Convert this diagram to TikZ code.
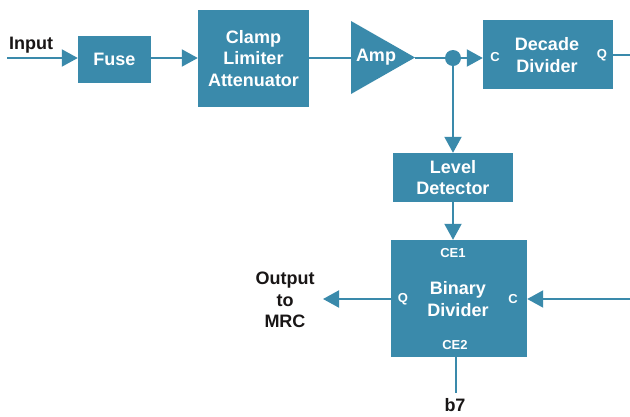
\documentclass[tikz,border=0pt]{standalone}
\usepackage{fontspec}
\setmainfont{Liberation Sans}
\usetikzlibrary{arrows.meta}
\definecolor{hpblue}{RGB}{58,138,171}
\definecolor{ink}{RGB}{25,22,22}
\begin{document}
\begin{tikzpicture}[x=1pt,y=-1pt,
  box/.style={draw=none,fill=hpblue,text=white,inner sep=0pt,align=center,
    font=\fontsize{18}{21.5}\selectfont\bfseries},
  pin/.style={text=white,inner sep=0pt,font=\fontsize{13}{14}\selectfont\bfseries},
  lbl/.style={text=ink,inner sep=0pt,align=center,font=\fontsize{18}{21.5}\selectfont\bfseries},
  wire/.style={draw=hpblue,line width=2pt},
  arr/.style={wire,-{Triangle[length=16pt,width=17pt]}}]
\useasboundingbox (0,0) rectangle (630,416);
% boxes
\node[box,minimum width=73pt,minimum height=47pt] (fuse) at (114.5,59.5) {Fuse};
\node[box,minimum width=111pt,minimum height=97pt] (clamp) at (253.5,58.5) {Clamp\\Limiter\\Attenuator};
\fill[hpblue] (351,21) -- (351,94) -- (415,57.5) -- cycle;
\coordinate (ampL) at (351,58);
\coordinate (ampR) at (415,58);
\node[box,fill=none] (amp) at (376,57) {Amp};
\node[circle,fill=hpblue,minimum size=16pt,inner sep=0pt] (dot) at (453,58) {};
\node[box,minimum width=130pt,minimum height=69pt] (decade) at (548,54.5) {};
\node[box,fill=none] (decadet) at (547,55) {Decade\\Divider};
\node[pin] (decC) at (495,57) {C};
\node[pin] (decQ) at (602,55) {Q};
\node[box,minimum width=120pt,minimum height=49pt] (level) at (453,177.5) {Level\\Detector};
\node[box,minimum width=136pt,minimum height=117pt] (binary) at (459,298.5) {};
\node[box,fill=none] (binaryt) at (458,299) {Binary\\Divider};
\node[pin] (ce1) at (453,253) {CE1};
\node[pin] (ce2) at (455,345) {CE2};
\node[pin] (binQ) at (403,299) {Q};
\node[pin] (binC) at (513,299) {C};
% labels
\node[lbl] (input) at (31,45) {Input};
\node[lbl] (output) at (285,300) {Output\\to\\MRC};
\node[lbl] (b7) at (455,405) {b7};
% free ends
\coordinate (inS) at (7,58);
\coordinate (decOut) at (630,55);
\coordinate (binIn) at (630,299);
\coordinate (outTip) at (323,299);
\coordinate (b7top) at (456,393);
% wires
\draw[arr] (inS) -- (fuse.west |- inS);
\draw[arr] (fuse.east |- inS) -- (clamp.west |- inS);
\draw[wire] (clamp.east |- inS) -- (ampL);
\draw[wire] (ampR) -- (dot);
\draw[arr] (dot) -- (decade.west |- dot);
\draw[wire] (decade.east |- decOut) -- (decOut);
\draw[arr] (dot) -- (level.north);
\draw[arr] (level.south) -- (binary.north -| level.south);
\draw[arr] (binIn) -- (binary.east |- binIn);
\draw[arr] (binary.west |- outTip) -- (outTip);
\draw[wire] (binary.south -| b7top) -- (b7top);
\end{tikzpicture}
\end{document}
